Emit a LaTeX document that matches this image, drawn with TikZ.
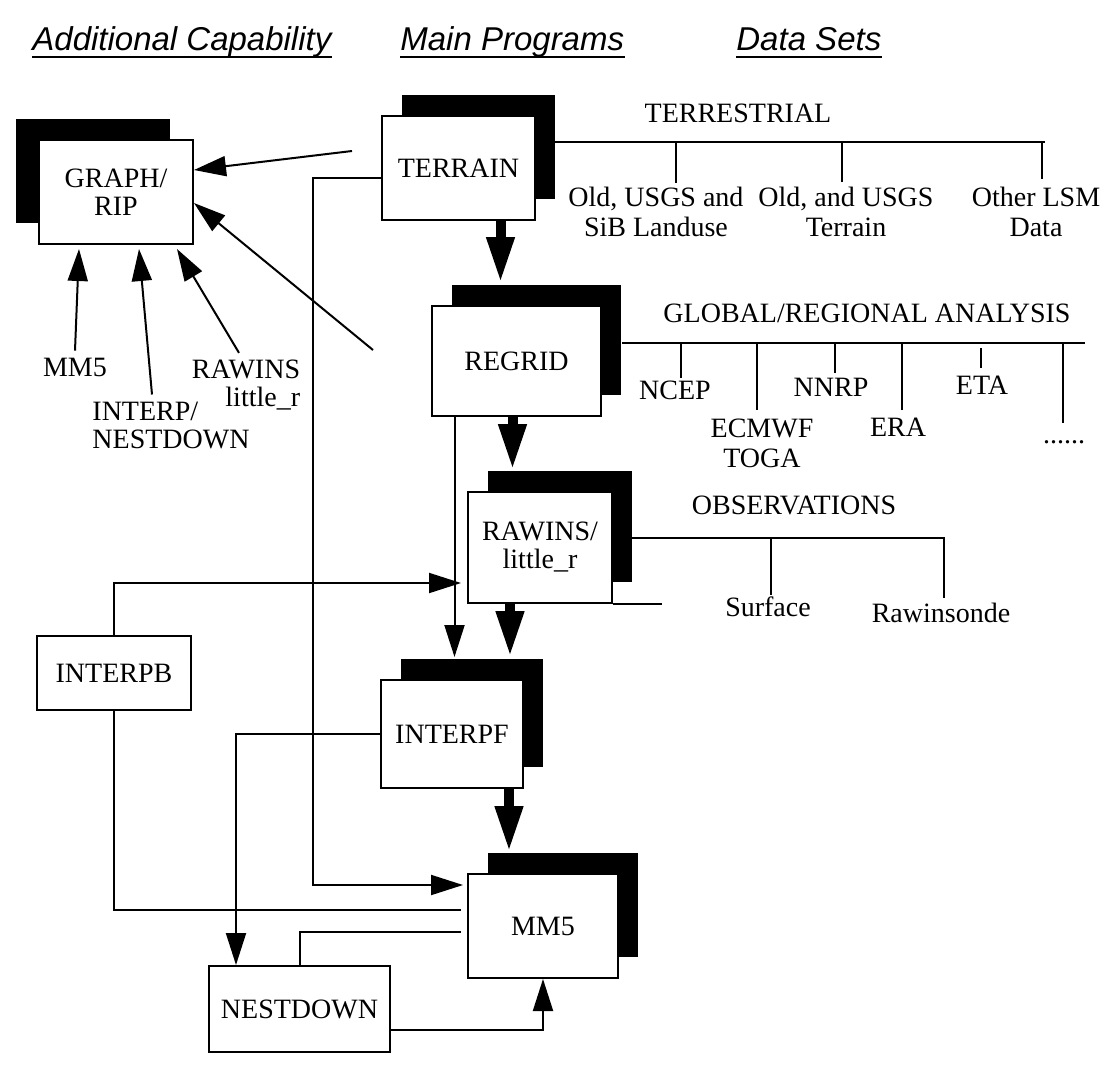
\documentclass[tikz,border=0pt]{standalone}
\usepackage{fontspec}
\setmainfont{Liberation Serif}
\newfontfamily\headfont{Liberation Sans}
\usetikzlibrary{arrows.meta,shadows}

\tikzset{
	prog/.style={draw, fill=white, line width=1pt, inner sep=0pt, align=center},
	rshadow/.style={general shadow={fill=black, shadow xshift=10pt, shadow yshift=10.5pt}},
	lshadow/.style={general shadow={fill=black, shadow xshift=-11.5pt, shadow yshift=10.5pt}},
	wire/.style={line width=1pt},
	flow/.style={line width=1pt, -{Triangle[length=16pt,width=10pt]}},
	bigflow/.style={line width=5pt, -{Triangle[length=23pt,width=13pt]}},
	head/.style={font=\headfont\itshape\fontsize{16.5}{18}\selectfont, anchor=base west, inner sep=0pt},
	leaf/.style={align=center, inner sep=0pt, font=\fontsize{14}{15}\selectfont}
}

\begin{document}
\begin{tikzpicture}[x=0.5pt, y=-0.5pt, font=\fontsize{14}{14}\selectfont]
	\useasboundingbox (0,0) rectangle (1110,1072);

	% column headings
	\node[head] (hcap) at (32,50) {Additional Capability};
	\node[head] (hprog) at (400,50) {Main Programs};
	\node[head] (hdata) at (736,50) {Data Sets};
	\foreach \h in {hcap,hprog,hdata}
		\draw[line width=1pt] ([yshift=-3.5pt]\h.base west) -- ([yshift=-3.5pt]\h.base east);

	% programs
	\node[prog, lshadow, minimum width=77pt, minimum height=52pt] (graph) at (116,192) {GRAPH/\\RIP};
	\node[prog, rshadow, minimum width=76.5pt, minimum height=52pt] (terrain) at (458.5,168) {TERRAIN};
	\node[prog, rshadow, minimum width=84.5pt, minimum height=55pt] (regrid) at (516.5,361) {REGRID};
	\node[prog, rshadow, minimum width=72pt, minimum height=55.5pt] (rawins) at (540,547.5) {RAWINS/\\little\_r};
	\node[prog, rshadow, minimum width=71pt, minimum height=54pt] (interpf) at (452,734) {INTERPF};
	\node[prog, rshadow, minimum width=75pt, minimum height=52pt] (mm5) at (543,926) {MM5};
	\node[prog, minimum width=77pt, minimum height=37pt] (interpb) at (114,673) {INTERPB};
	\node[prog, minimum width=90.5pt, minimum height=43pt] (nestdown) at (299.5,1009) {NESTDOWN};

	% inputs of GRAPH/RIP
	\node (lmm5) at (75,367) {MM5};
	\node[align=left] (linterp) at (171,425) {INTERP/\\NESTDOWN};
	\node[align=right] (lrawins) at (246,385) {RAWINS\\little\_r};
	\draw[flow] (lmm5.north) -- ([xshift=-18.5pt,yshift=-2pt]graph.south);
	\draw[flow] ([xshift=-9.5pt]linterp.north) -- ([xshift=11.5pt,yshift=-2pt]graph.south);
	\draw[flow] ([xshift=-3.5pt]lrawins.north) -- ([xshift=30.5pt,yshift=-2pt]graph.south);
	\coordinate (tfree) at (352,151);
	\coordinate (rfree) at (373,350);
	\draw[flow] (tfree) -- ([yshift=11pt]graph.east);
	\draw[flow] (rfree) -- ([yshift=-5.5pt]graph.east);

	% main chain
	\coordinate (rtop) at ([yshift=11pt]regrid.north);
	\coordinate (wtop) at ([yshift=10.5pt]rawins.north);
	\coordinate (ftop) at ([yshift=11pt]interpf.north);
	\coordinate (mtop) at ([yshift=10.5pt]mm5.north);
	\coordinate (ta) at ([xshift=21pt]terrain.south);
	\coordinate (ra) at ([xshift=-2pt]regrid.south);
	\coordinate (wa) at ([xshift=-15pt]rawins.south);
	\coordinate (fa) at ([xshift=28.5pt]interpf.south);
	\draw[bigflow] (ta) -- (ta |- rtop);
	\draw[bigflow] (ra) -- (ra |- wtop);
	\draw[bigflow] (wa) -- (wa |- ftop);
	\draw[bigflow] (fa) -- (fa |- mtop);

	\coordinate (rg) at ([xshift=-31pt]regrid.south);
	\draw[flow] (rg) -- (rg |- ftop);
	\draw[flow] ([yshift=-5pt]terrain.west) -- ++(-34pt,0) |- ([yshift=20.5pt,xshift=-2pt]mm5.west);

	% boundary and nest loops
	\draw[flow] (interpb.north) |- ([yshift=-17.75pt,xshift=-3pt]rawins.west);
	\draw[wire] (interpb.south) |- ([yshift=8pt,xshift=-3pt]mm5.west);
	\draw[flow] (interpf.west) -| ([xshift=-31.75pt]nestdown.north);
	\draw[wire] ([yshift=-3pt,xshift=-3pt]mm5.west) -| (nestdown.north);
	\draw[flow] ([yshift=-10.5pt]nestdown.east) -| (mm5.south);

	% terrestrial data
	\node (terr) at (738,113) {TERRESTRIAL};
	\coordinate (tend) at (1045,142);
	\draw[wire] ([xshift=9pt,yshift=13pt]terrain.east) -- (tend);
	\foreach \x/\y in {676/183, 842/182, 1042/179}
		\draw[wire] (\x,142) -- (\x,\y);
	\node[leaf] (landuse) at (656,212) {Old, USGS and\\SiB Landuse};
	\node[leaf] (terrdata) at (846,212) {Old, and USGS\\Terrain};
	\node[leaf] (lsm) at (1036,212) {Other LSM\\Data};

	% analyses
	\node (glob) at (867,313) {GLOBAL/REGIONAL ANALYSIS};
	\coordinate (gend) at (1085,343);
	\draw[wire] ([xshift=10pt,yshift=9pt]regrid.east) -- (gend);
	\foreach \x/\a/\b in {681/343/378, 757/343/410, 835/343/373, 902/343/410, 981/348/368, 1063/343/423}
		\draw[wire] (\x,\a) -- (\x,\b);
	\node (ncep) at (675,390) {NCEP};
	\node[leaf] (ecmwf) at (762,443) {ECMWF\\TOGA};
	\node (nnrp) at (831,387) {NNRP};
	\node (era) at (898,427) {ERA};
	\node (eta) at (982,385) {ETA};
	\node (more) at (1064,442) {......};

	% observations
	\node (obs) at (794,505) {OBSERVATIONS};
	\coordinate (oend) at (944,538);
	\draw[wire] ([xshift=9pt,yshift=4.75pt]rawins.east) -- (oend) -- ++(0,-30pt);
	\draw[wire] (771,538) -- (771,595);
	\draw[wire] (rawins.south east) -- ++(24.5pt,0);
	\node (surf) at (768,607) {Surface};
	\node (sonde) at (941,613) {Rawinsonde};
\end{tikzpicture}
\end{document}
